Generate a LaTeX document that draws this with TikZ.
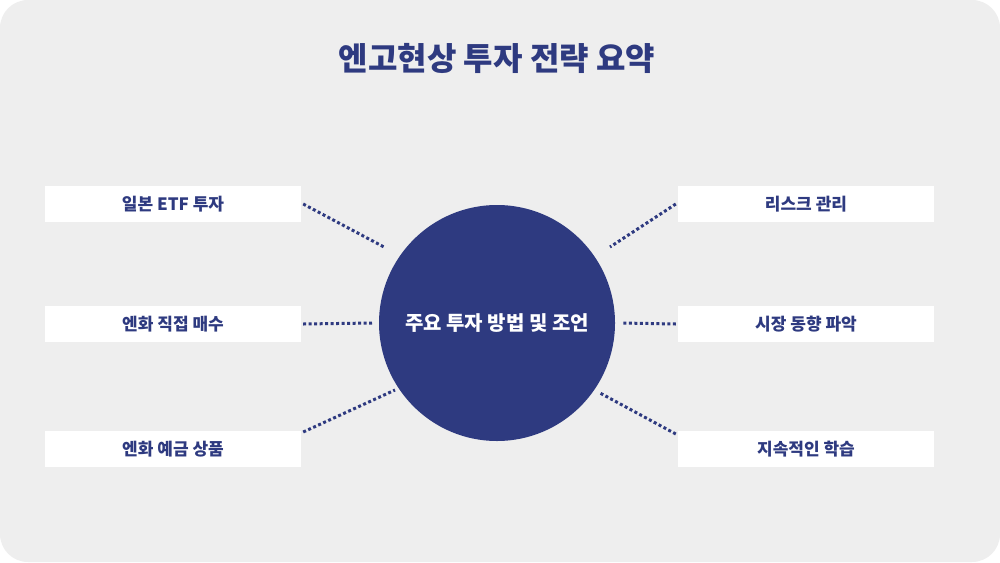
\documentclass[tikz,border=0pt]{standalone}
\usepackage{fontspec}
\setmainfont{Noto Sans CJK KR}
\definecolor{navy}{HTML}{2E3A80}
\definecolor{bg}{HTML}{EEEEEE}
\begin{document}
\begin{tikzpicture}[x=1pt,y=-1pt,
  lbl/.style={fill=white,minimum width=256pt,minimum height=36pt,inner sep=0pt,text=navy,font=\bfseries\fontsize{17}{19}\selectfont},
  dots/.style={navy,line width=3pt,dash pattern=on 3pt off 2.5pt}]
\useasboundingbox (0,0) rectangle (1000,562);
\fill[white] (0,0) rectangle (1000,562);
\fill[bg,rounded corners=28pt] (0,0) rectangle (1000,562);
\node[text=navy,font=\bfseries\fontsize{32}{36}\selectfont] (title) at (497,58) {엔고현상 투자 전략 요약};
\node[circle,fill=navy,minimum size=236pt,inner sep=0pt,text=white,font=\bfseries\fontsize{20}{23}\selectfont] (c) at (497,323) {주요 투자 방법 및 조언};
\node[lbl] (l1) at (173,204) {일본 ETF 투자};
\node[lbl] (l2) at (173,324) {엔화 직접 매수};
\node[lbl] (l3) at (173,449) {엔화 예금 상품};
\node[lbl] (r1) at (806,204) {리스크 관리};
\node[lbl] (r2) at (806,324) {시장 동향 파악};
\node[lbl] (r3) at (806,449) {지속적인 학습};
\coordinate (a1) at (384,247);
\coordinate (a2) at (372,323);
\coordinate (a3) at (395,390);
\coordinate (b1) at (610,247);
\coordinate (b2) at (622,323);
\coordinate (b3) at (600,393);
\draw[dots] ([xshift=2pt]l1.east) -- (a1);
\draw[dots] ([xshift=2pt]l2.east) -- (a2);
\draw[dots] ([xshift=2pt,yshift=17pt]l3.east) -- (a3);
\draw[dots] ([xshift=-2pt]r1.west) -- (b1);
\draw[dots] ([xshift=-2pt]r2.west) -- (b2);
\draw[dots] ([xshift=-2pt,yshift=15pt]r3.west) -- (b3);
\end{tikzpicture}
\end{document}
